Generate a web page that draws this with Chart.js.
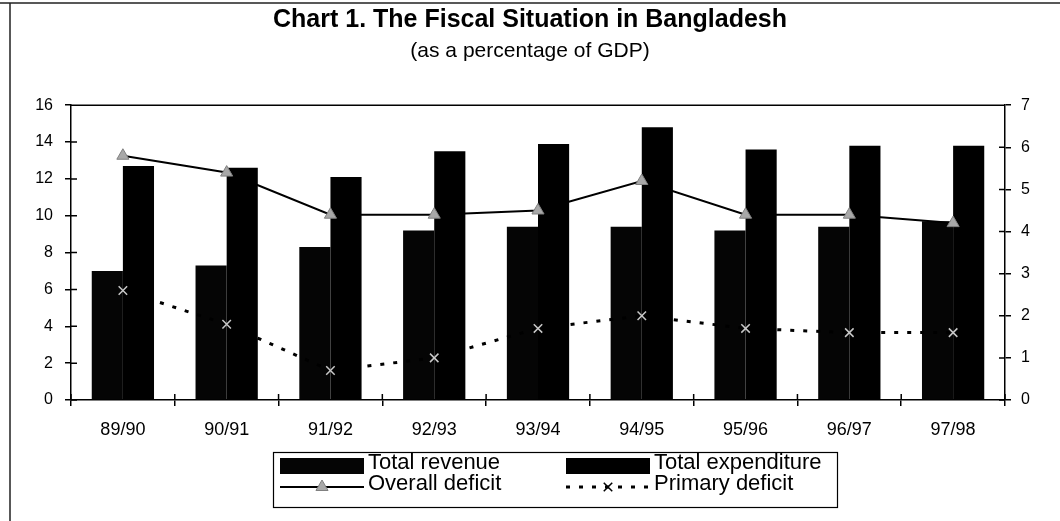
<!DOCTYPE html>
<html>
<head>
<meta charset="utf-8">
<script src="https://cdn.jsdelivr.net/npm/chart.js@4"></script>
<style>
html, body { margin: 0; padding: 0; background: #fff; }
#wrap { width: 1060px; height: 521px; }
</style>
</head>
<body>
<div id="wrap"><canvas id="chart1"></canvas></div>
<script>
const CATEGORIES = ['89/90', '90/91', '91/92', '92/93', '93/94', '94/95', '95/96', '96/97', '97/98'];
const TOTAL_REVENUE = [7.0, 7.3, 8.3, 9.2, 9.4, 9.4, 9.2, 9.4, 9.7];
const TOTAL_EXPENDITURE = [12.7, 12.6, 12.1, 13.5, 13.9, 14.8, 13.6, 13.8, 13.8];
const OVERALL_DEFICIT = [5.8, 5.4, 4.4, 4.4, 4.5, 5.2, 4.4, 4.4, 4.2];
const PRIMARY_DEFICIT = [2.6, 1.8, 0.7, 1.0, 1.7, 2.0, 1.7, 1.6, 1.6];

const FONT = "'Liberation Sans', Arial, sans-serif";

// page frame, plot frame and the inner half of the tick marks
const frame = {
    id: 'frame',
    beforeDraw(chart) {
        const ctx = chart.ctx;
        ctx.save();
        ctx.strokeStyle = '#222';
        ctx.lineWidth = 1.5;
        ctx.beginPath();
        ctx.moveTo(0, 3);
        ctx.lineTo(chart.width, 3);
        ctx.moveTo(10, 3);
        ctx.lineTo(10, chart.height);
        ctx.stroke();
        ctx.restore();
    },
    afterDraw(chart) {
        const ctx = chart.ctx;
        const a = chart.chartArea;
        const {x, y, y1} = chart.scales;
        ctx.save();
        ctx.strokeStyle = '#000';
        ctx.lineWidth = 1.5;
        ctx.beginPath();
        ctx.moveTo(a.left, a.top);
        ctx.lineTo(a.right, a.top);
        y.ticks.forEach(t => {
            const p = y.getPixelForValue(t.value);
            ctx.moveTo(a.left, p);
            ctx.lineTo(a.left + 6, p);
        });
        y1.ticks.forEach(t => {
            const p = y1.getPixelForValue(t.value);
            ctx.moveTo(a.right, p);
            ctx.lineTo(a.right - 6, p);
        });
        for (let i = 0; i <= CATEGORIES.length; i++) {
            const p = x.getPixelForValue(i - 0.5);
            ctx.moveTo(p, a.bottom);
            ctx.lineTo(p, a.bottom - 6);
        }
        ctx.stroke();
        ctx.restore();
    }
};

// boxed legend, two columns
const boxLegend = {
    id: 'boxLegend',
    afterDraw(chart) {
        const ctx = chart.ctx;
        const ds = chart.data.datasets;
        const cols = [280, 566];
        const rows = [466, 487];
        const w = 84;
        ctx.save();
        ctx.strokeStyle = '#000';
        ctx.lineWidth = 1.2;
        ctx.strokeRect(273.5, 452.5, 564, 55);
        ctx.font = '22px ' + FONT;
        ctx.textAlign = 'left';
        ctx.textBaseline = 'alphabetic';
        ds.forEach((d, k) => {
            const x = cols[k % 2];
            const y = rows[Math.floor(k / 2)];
            if (d.type === 'line') {
                ctx.strokeStyle = d.borderColor;
                ctx.lineWidth = d.borderWidth;
                ctx.setLineDash(d.borderDash || []);
                ctx.beginPath();
                ctx.moveTo(x, y);
                ctx.lineTo(x + w, y);
                ctx.stroke();
                ctx.setLineDash([]);
                ctx.fillStyle = d.pointBackgroundColor;
                ctx.strokeStyle = d.legendPointColor || d.pointBorderColor;
                ctx.lineWidth = d.pointBorderWidth;
                Chart.helpers.drawPoint(ctx, {pointStyle: d.pointStyle, radius: d.pointRadius, borderWidth: d.pointBorderWidth}, x + w / 2, y);
            } else {
                ctx.fillStyle = d.backgroundColor;
                ctx.fillRect(x, y - 8, w, 16);
            }
            ctx.fillStyle = '#000';
            ctx.fillText(d.label, x + w + 4, y + 3);
        });
        ctx.restore();
    }
};

new Chart(document.getElementById('chart1'), {
    data: {
        labels: CATEGORIES,
        datasets: [
            {
                type: 'bar',
                label: 'Total revenue',
                data: TOTAL_REVENUE,
                backgroundColor: '#050505',
                yAxisID: 'y',
                order: 1,
                categoryPercentage: 0.6,
                barPercentage: 1.0,
            },
            {
                type: 'bar',
                label: 'Total expenditure',
                data: TOTAL_EXPENDITURE,
                backgroundColor: '#000',
                yAxisID: 'y',
                order: 1,
                categoryPercentage: 0.6,
                barPercentage: 1.0,
            },
            {
                type: 'line',
                label: 'Overall deficit',
                data: OVERALL_DEFICIT,
                yAxisID: 'y1',
                order: 0,
                borderColor: '#000',
                borderWidth: 2,
                tension: 0,
                pointStyle: 'triangle',
                pointRadius: 7,
                pointBackgroundColor: '#a8a8a8',
                pointBorderColor: '#808080',
                pointBorderWidth: 1,
            },
            {
                type: 'line',
                label: 'Primary deficit',
                data: PRIMARY_DEFICIT,
                yAxisID: 'y1',
                order: 0,
                borderColor: '#000',
                borderWidth: 3,
                borderDash: [4, 9],
                tension: 0,
                pointStyle: 'crossRot',
                pointRadius: 6,
                pointBackgroundColor: '#c8c8c8',
                pointBorderColor: '#c8c8c8',
                legendPointColor: '#000',
                pointBorderWidth: 1.5,
            },
        ]
    },
    options: {
        responsive: true,
        maintainAspectRatio: false,
        animation: false,
        layout: {padding: {top: 0, right: 0, bottom: 71, left: 0}},
        scales: {
            x: {
                grid: {drawOnChartArea: false, color: '#000', tickLength: 6, lineWidth: 1.5},
                border: {color: '#000', width: 1.5},
                ticks: {color: '#000', font: {family: FONT, size: 18}, padding: 13, maxRotation: 0, autoSkip: false},
                afterFit(s) { s.height = 50; },
            },
            y: {
                position: 'left',
                min: 0,
                max: 16,
                grid: {drawOnChartArea: false, color: '#000', tickLength: 6, lineWidth: 1.5},
                border: {color: '#000', width: 1.5},
                ticks: {stepSize: 2, color: '#000', font: {family: FONT, size: 16}, padding: 12},
                afterFit(s) { s.width = 71; },
            },
            y1: {
                position: 'right',
                min: 0,
                max: 7,
                grid: {drawOnChartArea: false, color: '#000', tickLength: 6, lineWidth: 1.5},
                border: {color: '#000', width: 1.5},
                ticks: {stepSize: 1, color: '#000', font: {family: FONT, size: 16}, padding: 10},
                afterFit(s) { s.width = 55; },
            },
        },
        plugins: {
            legend: {display: false},
            tooltip: {enabled: false},
            title: {
                display: true,
                text: 'Chart 1. The Fiscal Situation in Bangladesh',
                color: '#000',
                font: {family: FONT, size: 25, weight: 'bold'},
                padding: {top: 5, bottom: 4},
            },
            subtitle: {
                display: true,
                text: '(as a percentage of GDP)',
                color: '#000',
                font: {family: FONT, size: 21},
                padding: {top: 0, bottom: 41},
            },
        }
    },
    plugins: [frame, boxLegend]
});
</script>
</body>
</html>
